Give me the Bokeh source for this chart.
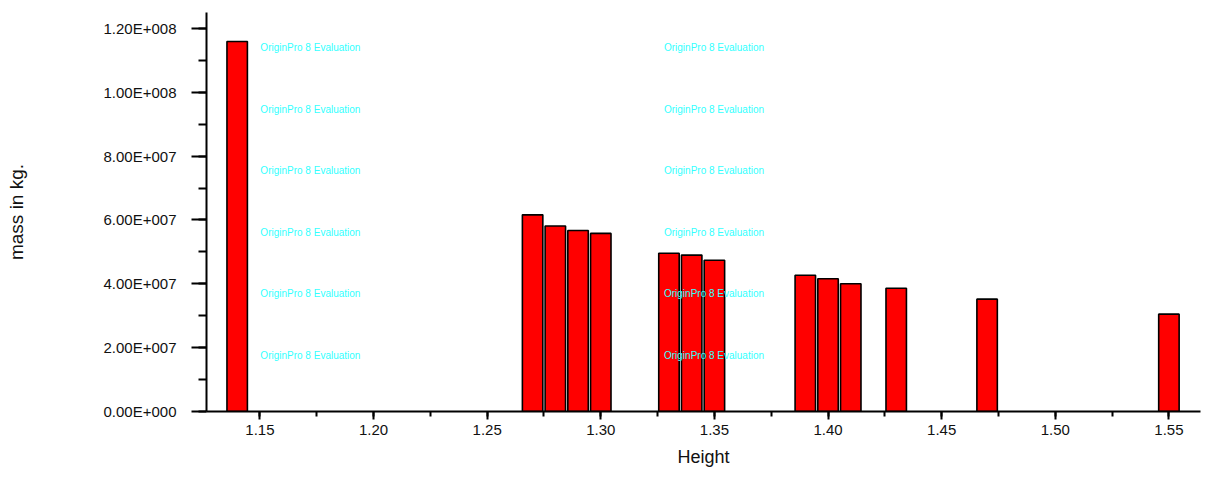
from bokeh.plotting import figure
from bokeh.models import Range1d, FixedTicker, Label
from bokeh.embed import file_html
from bokeh.resources import INLINE

# ---- data ----
heights = [1.14, 1.27, 1.28, 1.29, 1.30, 1.33, 1.34, 1.35, 1.39, 1.40, 1.41, 1.43, 1.47, 1.55]
mass_kg = [1.159e8, 6.16e7, 5.81e7, 5.67e7, 5.58e7, 4.96e7, 4.90e7, 4.74e7,
           4.27e7, 4.16e7, 4.00e7, 3.86e7, 3.52e7, 3.05e7]
x_ticks = [1.15, 1.20, 1.25, 1.30, 1.35, 1.40, 1.45, 1.50, 1.55]
x_tick_labels = ["1.15", "1.20", "1.25", "1.30", "1.35", "1.40", "1.45", "1.50", "1.55"]
y_ticks = [0, 2e7, 4e7, 6e7, 8e7, 1e8, 1.2e8]
y_tick_labels = ["0.00E+000", "2.00E+007", "4.00E+007", "6.00E+007",
                 "8.00E+007", "1.00E+008", "1.20E+008"]
watermark_text = "OriginPro 8 Evaluation"
watermark_x = [1.1502, 1.3278]
watermark_y = [1.140e8, 0.947e8, 0.754e8, 0.561e8, 0.369e8, 0.176e8]

FONT = "Liberation Sans"

p = figure(width=1209, height=477, output_backend="svg", toolbar_location=None,
           x_range=Range1d(1.1265, 1.5639), y_range=Range1d(0, 1.25e8),
           min_border_left=206, min_border_right=9, min_border_top=12,
           min_border_bottom=66)
p.outline_line_color = None
p.xgrid.visible = False
p.ygrid.visible = False
p.background_fill_color = "white"
p.border_fill_color = "white"

# watermark
for wx in watermark_x:
    for wy in watermark_y:
        p.add_layout(Label(x=wx, y=wy, text=watermark_text, text_font=FONT,
                           text_font_size="10px", text_color="#33ffff",
                           text_baseline="middle", text_align="left"))

p.vbar(x=heights, top=mass_kg, width=0.009, bottom=0,
       fill_color="#ff0000", line_color="black", line_width=1.6)

# x axis
xa = p.xaxis[0]
xa.ticker = FixedTicker(ticks=x_ticks,
                        minor_ticks=[1.125 + 0.025 * i for i in range(18)])
xa.major_label_overrides = {t: l for t, l in zip(x_ticks, x_tick_labels)}
xa.axis_label = "Height"
xa.axis_label_text_font = FONT
xa.axis_label_text_font_size = "18px"
xa.axis_label_text_font_style = "normal"
xa.axis_label_text_color = "#111111"
xa.axis_label_standoff = 9
xa.major_label_text_font = FONT
xa.major_label_text_font_size = "15px"
xa.major_label_text_color = "#111111"
xa.major_label_standoff = 5
xa.axis_line_width = 2
xa.major_tick_line_width = 2
xa.minor_tick_line_width = 2
xa.major_tick_in = 0
xa.major_tick_out = 8
xa.minor_tick_in = 0
xa.minor_tick_out = 5

# y axis
ya = p.yaxis[0]
ya.ticker = FixedTicker(ticks=y_ticks,
                        minor_ticks=[1e7 * i for i in range(13)])
ya.major_label_overrides = {t: l for t, l in zip(y_ticks, y_tick_labels)}
ya.axis_label = "mass in kg."
ya.axis_label_text_font = FONT
ya.axis_label_text_font_size = "19px"
ya.axis_label_text_font_style = "normal"
ya.axis_label_text_color = "#111111"
ya.axis_label_standoff = 74
ya.major_label_text_font = FONT
ya.major_label_text_font_size = "15px"
ya.major_label_text_color = "#111111"
ya.major_label_standoff = 15
ya.axis_line_width = 2
ya.major_tick_line_width = 2
ya.minor_tick_line_width = 2
ya.major_tick_in = 0
ya.major_tick_out = 15
ya.minor_tick_in = 0
ya.minor_tick_out = 8

open("out.html", "w").write(file_html(p, INLINE))
